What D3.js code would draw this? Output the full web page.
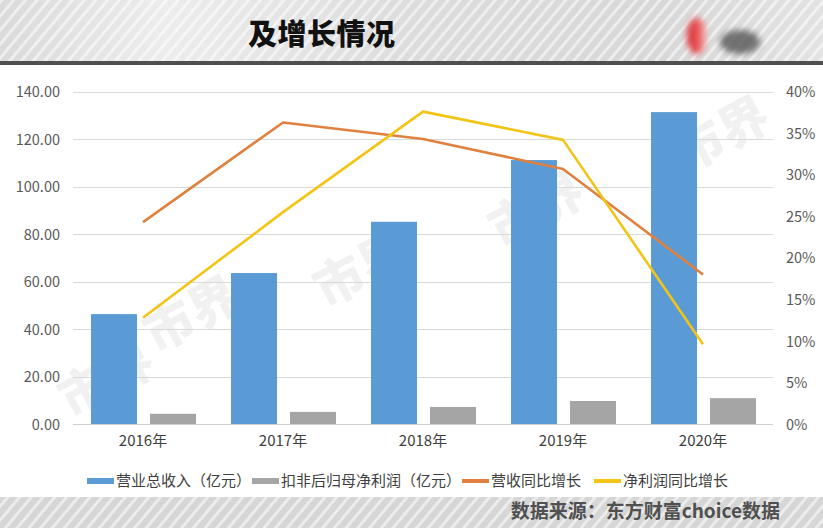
<!DOCTYPE html>
<html><head><meta charset="utf-8">
<script src="https://cdn.jsdelivr.net/npm/d3@7/dist/d3.min.js"></script>
<style>
html,body{margin:0;padding:0;background:#fff;}
svg{display:block;font-family:"Noto Sans CJK SC","Noto Sans",sans-serif;}
</style></head>
<body>
<svg id="chart" width="823" height="528"></svg>
<script>
const categories = ["2016年","2017年","2018年","2019年","2020年"];
const revenue = [46.3, 63.6, 85.2, 111.2, 131.4];          // 营业总收入（亿元）
const netProfit = [4.3, 5.1, 7.2, 9.7, 10.9];               // 扣非后归母净利润（亿元）
const revenueGrowth = [24.3, 36.3, 34.3, 30.7, 18.0];       // 营收同比增长 (%)
const profitGrowth = [12.8, 25.5, 37.6, 34.2, 9.6];         // 净利润同比增长 (%)
const leftTicks = [0,20,40,60,80,100,120,140];
const rightTicks = [0,5,10,15,20,25,30,35,40];
const seriesNames = ["营业总收入（亿元）","扣非后归母净利润（亿元）","营收同比增长","净利润同比增长"];
const titleText = "及增长情况";
const sourceText = "数据来源：东方财富choice数据";
const watermark = "市界";

const colors = {blue:"#5B9BD5", gray:"#A5A5A5", orange:"#E0813F", yellow:"#F2C416"};

const svg = d3.select("#chart");
const W = 823, H = 528;

// ---- background bands ----
const defs = svg.append("defs");
const pat = defs.append("pattern").attr("id","stripes").attr("patternUnits","userSpaceOnUse")
  .attr("width",9).attr("height",9).attr("patternTransform","rotate(40)");
pat.append("rect").attr("width",9).attr("height",9).attr("fill","#d6d6d6");
pat.append("rect").attr("width",3).attr("height",9).attr("fill","#ececec");
const lg = defs.append("linearGradient").attr("id","hdrGlow").attr("x1",0).attr("x2",1);
lg.append("stop").attr("offset","0").attr("stop-color","#fff").attr("stop-opacity",0.1);
lg.append("stop").attr("offset","0.2").attr("stop-color","#fff").attr("stop-opacity",0.55);
lg.append("stop").attr("offset","0.5").attr("stop-color","#fff").attr("stop-opacity",0.15);
lg.append("stop").attr("offset","0.8").attr("stop-color","#fff").attr("stop-opacity",0.05);
lg.append("stop").attr("offset","1").attr("stop-color","#fff").attr("stop-opacity",0.3);
const blur = defs.append("filter").attr("id","blur").attr("x","-50%").attr("y","-50%").attr("width","200%").attr("height","200%");
blur.append("feGaussianBlur").attr("stdDeviation",3);
const rg = defs.append("linearGradient").attr("id","redG").attr("x1",0).attr("x2",1);
rg.append("stop").attr("offset","0").attr("stop-color","#d9262b");
rg.append("stop").attr("offset","0.6").attr("stop-color","#e8585c");
rg.append("stop").attr("offset","1").attr("stop-color","#f2c8c8");

svg.append("rect").attr("x",0).attr("y",0).attr("width",W).attr("height",61).attr("fill","url(#stripes)");
svg.append("rect").attr("x",0).attr("y",0).attr("width",W).attr("height",61).attr("fill","url(#hdrGlow)");
svg.append("rect").attr("x",0).attr("y",61).attr("width",W).attr("height",4).attr("fill","#4f4f4f");
svg.append("rect").attr("x",0).attr("y",497).attr("width",W).attr("height",31).attr("fill","url(#stripes)");

// title
svg.append("text").attr("x",248).attr("y",45).attr("font-size",29).attr("font-weight",900)
  .attr("fill","#111").attr("textLength",147).text(titleText);

// logo (blurred)
svg.append("ellipse").attr("cx",697).attr("cy",36).attr("rx",10).attr("ry",18).attr("fill","url(#redG)").attr("filter","url(#blur)");
svg.append("ellipse").attr("cx",740).attr("cy",42).attr("rx",20).attr("ry",12).attr("fill","#555").attr("opacity",0.8).attr("filter","url(#blur)");

// source
svg.append("text").attr("x",780).attr("y",518).attr("text-anchor","end").attr("font-size",19)
  .attr("font-weight",700).attr("fill","#505050").text(sourceText);

// ---- scales ----
const x = d3.scaleBand().domain(categories).range([73,773]).padding(0);
const xi = d3.scaleBand().domain(["rev","np"]).range([18,123]).paddingInner(0.22).paddingOuter(0);
const yL = d3.scaleLinear().domain([0,140]).range([424,91.7]);
const yR = d3.scaleLinear().domain([0,40]).range([424,91.7]);

// watermarks
const wm = [[115,395],[200,330],[370,285],[545,225],[730,150]];
svg.append("g").selectAll("text").data(wm).join("text")
  .attr("transform",d=>`translate(${d[0]},${d[1]}) rotate(-28)`)
  .attr("text-anchor","middle").attr("font-size",50).attr("font-weight",900)
  .attr("fill","#000").attr("opacity",0.05).text(watermark);

// gridlines
svg.append("g").selectAll("line").data(leftTicks).join("line")
  .attr("x1",73).attr("x2",773).attr("y1",d=>Math.round(yL(d))+0.5).attr("y2",d=>Math.round(yL(d))+0.5)
  .attr("stroke",d=>d===0?"#d0d0d0":"#d9d9d9").attr("stroke-width",1);

// left axis
const axL = svg.append("g").attr("transform","translate(60,0)")
  .call(d3.axisLeft(yL).tickValues(leftTicks).tickFormat(d3.format(".2f")).tickSize(0).tickPadding(0));
axL.select(".domain").remove();
axL.selectAll("text").attr("font-size",14.5).attr("fill","#595959")
  .attr("font-family","'Noto Sans CJK SC',sans-serif").attr("dy","0.35em");

// right axis
const axR = svg.append("g").attr("transform","translate(786,0)")
  .call(d3.axisRight(yR).tickValues(rightTicks).tickFormat(d=>d+"%").tickSize(0).tickPadding(0));
axR.select(".domain").remove();
axR.selectAll("text").attr("font-size",14.5).attr("fill","#595959")
  .attr("font-family","'Noto Sans CJK SC',sans-serif").attr("dy","0.35em");

// bottom axis
const axB = svg.append("g").attr("transform","translate(0,432)")
  .call(d3.axisBottom(x).tickSize(0).tickPadding(0));
axB.select(".domain").remove();
axB.selectAll("text").attr("font-size",15).attr("fill","#404040")
  .attr("font-family","'Noto Sans CJK SC',sans-serif").attr("dy","0.9em");

// bars
const g = svg.append("g");
g.selectAll("rect.rev").data(revenue).join("rect").attr("class","rev")
  .attr("x",(d,i)=>x(categories[i])+xi("rev")).attr("width",xi.bandwidth())
  .attr("y",d=>yL(d)).attr("height",d=>yL(0)-yL(d)).attr("fill",colors.blue);
g.selectAll("rect.np").data(netProfit).join("rect").attr("class","np")
  .attr("x",(d,i)=>x(categories[i])+xi("np")).attr("width",xi.bandwidth())
  .attr("y",d=>yL(d)).attr("height",d=>yL(0)-yL(d)).attr("fill",colors.gray);

// lines
const line = d3.line().x((d,i)=>x(categories[i])+x.bandwidth()/2).y(d=>yR(d));
svg.append("path").datum(revenueGrowth).attr("d",line).attr("fill","none")
  .attr("stroke",colors.orange).attr("stroke-width",2.6).attr("stroke-linejoin","round");
svg.append("path").datum(profitGrowth).attr("d",line).attr("fill","none")
  .attr("stroke",colors.yellow).attr("stroke-width",2.6).attr("stroke-linejoin","round");

// legend
const legendItems = [
  {name:seriesNames[0], color:colors.blue, x:87, h:6},
  {name:seriesNames[1], color:colors.gray, x:252, h:6},
  {name:seriesNames[2], color:colors.orange, x:462, h:4},
  {name:seriesNames[3], color:colors.yellow, x:594, h:4}
];
const lgG = svg.append("g");
const li = lgG.selectAll("g").data(legendItems).join("g").attr("transform",d=>`translate(${d.x},481)`);
li.append("rect").attr("x",0).attr("y",d=>-d.h/2).attr("width",27).attr("height",d=>d.h).attr("fill",d=>d.color);
li.append("text").attr("x",29).attr("y",0).attr("dy","0.36em").attr("font-size",15)
  .attr("fill","#404040").text(d=>d.name);
</script>
</body></html>
